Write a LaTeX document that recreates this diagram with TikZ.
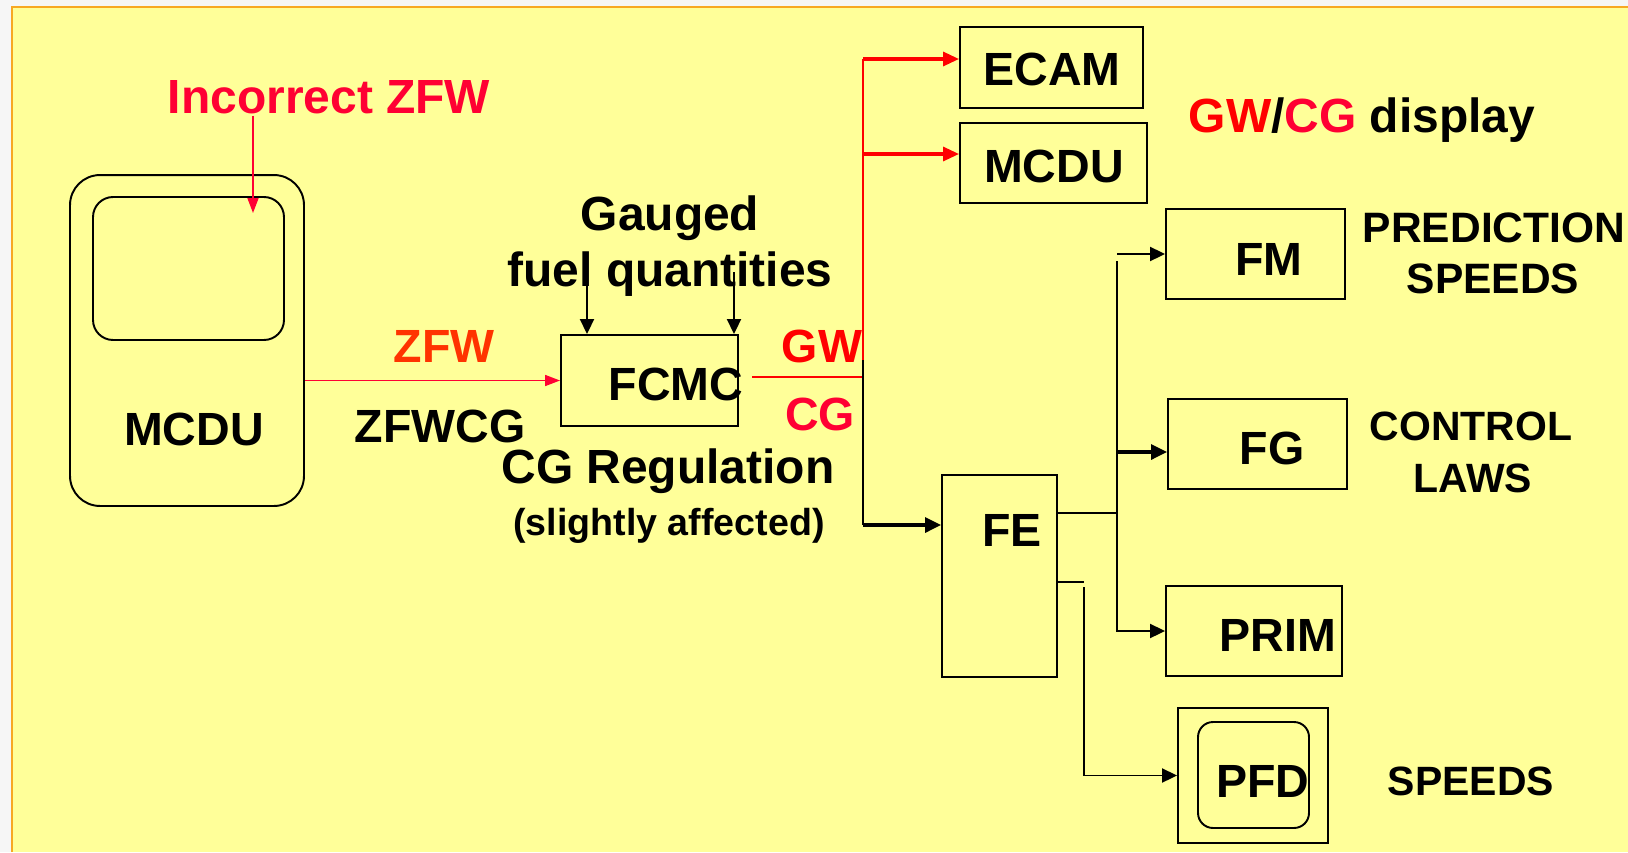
\documentclass[tikz,border=0pt]{standalone}
\usepackage{fontspec}
\setmainfont{Liberation Sans}
\usetikzlibrary{arrows.meta}
\definecolor{slideyellow}{HTML}{FFFF99}
\definecolor{edgeorange}{HTML}{F7A823}
\definecolor{warnred}{HTML}{FF0033}
\definecolor{zfwred}{HTML}{FF3300}

\begin{document}
\begin{tikzpicture}[x=0.02cm, y=-0.02cm,
        box/.style={rectangle, draw=black, line width=1.1pt, inner sep=0pt},
        txt/.style={anchor=base, inner sep=1pt, font=\fontsize{26.5}{30}\selectfont\bfseries},
        big/.style={anchor=base, inner sep=1pt, font=\fontsize{27.3}{30}\selectfont\bfseries},
        side/.style={anchor=base, inner sep=1pt, font=\fontsize{23.3}{26}\selectfont\bfseries},
        ln/.style={line width=1.1pt},
        redln/.style={line width=0.9pt, red},
        arr/.style={-{Triangle[length=0.3cm,width=0.28cm]}, line width=1.1pt},
        thk/.style={-{Triangle[length=0.32cm,width=0.3cm]}, line width=1.8pt},
        redarr/.style={-{Triangle[length=0.3cm,width=0.22cm]}, line width=0.9pt, warnred},
        redthk/.style={-{Triangle[length=0.32cm,width=0.28cm]}, line width=1.8pt, red}]
      \useasboundingbox (0,0) rectangle (1628,852);
      \fill[gray!7] (0,0) rectangle (1628,852);
      \fill[slideyellow] (12,7) rectangle (1628,852);
      \draw[edgeorange, line width=1.2pt] (12,852) -- (12,7) -- (1628,7);

      % MCDU with the wrong entry
      \node[box, rounded corners=0.6cm, minimum width=4.68cm, minimum height=6.62cm] (mcdu) at (187,340.5) {};
      \node[box, rounded corners=0.4cm, minimum width=3.82cm, minimum height=2.86cm] (scr) at (188.5,268.5) {};
      \node[txt] (mcdulbl) at (194,445) {MCDU};
      \node[big, warnred] (inc) at (329,113) {Incorrect ZFW};
      \coordinate (scrtip) at (253,213);
      \draw[redarr] (inc.south -| scrtip) -- (scrtip);

      % FCMC
      \node[box, minimum width=3.54cm, minimum height=1.82cm] (fcmc) at (649.5,380.5) {};
      \node[txt] (fcmclbl) at (676,400) {FCMC};
      \draw[redarr] (mcdu.east |- fcmc.west) -- (fcmc.west);
      \node[txt, zfwred] (zfw) at (444,362) {ZFW};
      \node[txt] (zfwcg) at (440,442) {ZFWCG};
      \node[big] (gauged) at (670,230) {Gauged};
      \node[big] (fuelq) at (670,286) {fuel quantities};
      \coordinate (g1) at (587,256);
      \coordinate (g2) at (734,272);
      \draw[arr] (g1) -- (g1 |- fcmc.north);
      \draw[arr] (g2) -- (g2 |- fcmc.north);
      \node[big] (cgreg) at (668,483) {CG Regulation};
      \node[txt, font=\fontsize{21.4}{24}\selectfont\bfseries] (slight) at (669,535) {(slightly affected)};

      % displays
      \node[box, minimum width=3.66cm, minimum height=1.62cm] (ecam) at (1051.5,67.5) {};
      \node[txt] (ecamlbl) at (1052,85) {ECAM};
      \node[box, minimum width=3.74cm, minimum height=1.6cm] (mcdub) at (1053.5,163) {};
      \node[txt] (mcdublbl) at (1054,182) {MCDU};
      \node[big] (disp) at (1362,132) {\textcolor{red}{GW}/\textcolor{warnred}{CG} display};

      \node[txt, red] (gw) at (822,362) {GW};
      \node[txt, warnred] (cg) at (820,430) {CG};
      \coordinate (gwout) at (752,377);
      \coordinate (split) at (863,360);
      \coordinate (ecamin) at ([yshift=0.17cm]ecam.west);
      \coordinate (mcdubin) at ([yshift=0.18cm]mcdub.west);
      \draw[redln] (gwout) -- (gwout -| split);
      \draw[redln] (split) -- (split |- ecamin);
      \draw[redthk] (split |- ecamin) -- (ecamin);
      \draw[redthk] (split |- mcdubin) -- (mcdubin);

      % FE and its users
      \node[box, minimum width=2.3cm, minimum height=4.04cm] (fe) at (999.5,576) {};
      \node[txt] (felbl) at (1012,546) {FE};
      \coordinate (fein) at ([yshift=1.02cm]fe.west);
      \draw[ln] (split) -- (split |- fein);
      \draw[thk] (split |- fein) -- (fein);

      \node[box, minimum width=3.58cm, minimum height=1.8cm] (fm) at (1255.5,254) {};
      \node[txt] (fmlbl) at (1269,275) {FM};
      \node[box, minimum width=3.58cm, minimum height=1.8cm] (fg) at (1257.5,444) {};
      \node[txt] (fglbl) at (1272,464) {FG};
      \node[box, minimum width=3.52cm, minimum height=1.8cm] (prim) at (1254,631) {};
      \node[txt] (primlbl) at (1278,651) {PRIM};
      \node[box, minimum width=3.0cm, minimum height=2.7cm] (pfd) at (1253,775.5) {};
      \node[box, rounded corners=0.3cm, minimum width=2.22cm, minimum height=2.12cm] (pfdscr) at (1253.5,775) {};
      \node[txt] (pfdlbl) at (1263,797) {PFD};

      \node[side, font=\fontsize{24.2}{26}\selectfont\bfseries] (pred) at (1494,242) {PREDICTION};
      \node[side, font=\fontsize{24.2}{26}\selectfont\bfseries] (predsp) at (1493,293) {SPEEDS};
      \node[side] (ctl) at (1471,440) {CONTROL};
      \node[side] (laws) at (1473,492) {LAWS};
      \node[side] (pfdsp) at (1471,795) {SPEEDS};

      \coordinate (busn) at (1117,261);
      \coordinate (feo1) at ([yshift=1.26cm]fe.east);
      \coordinate (feo2) at ([yshift=-0.12cm]fe.east);
      \coordinate (fgin) at ([yshift=-0.16cm]fg.west);
      \coordinate (pfdv) at (1084,587);
      \draw[ln] (feo1) -- (feo1 -| busn);
      \draw[arr] (busn |- fm.west) -- (fm.west);
      \draw[arr] (busn) |- (prim.west);
      \draw[thk] (busn |- fgin) -- (fgin);
      \draw[ln] (feo2) -- (feo2 -| pfdv);
      \draw[arr] (pfdv) |- (pfd.west);
    \end{tikzpicture}
\end{document}
